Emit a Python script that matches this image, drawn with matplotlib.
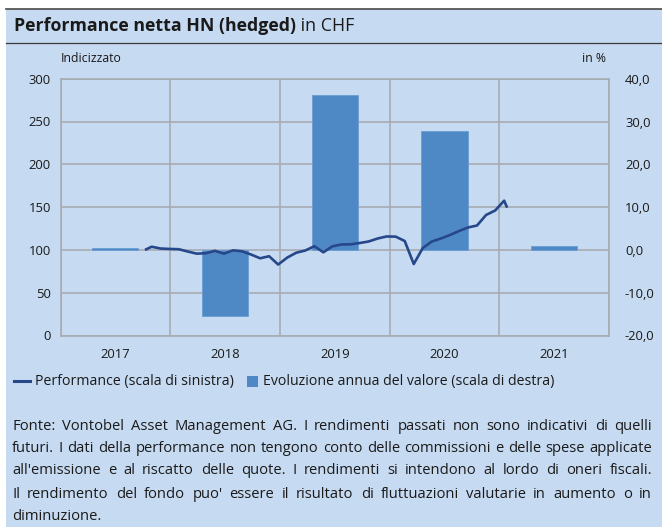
import matplotlib
matplotlib.use("Agg")
import matplotlib.pyplot as plt
from matplotlib.lines import Line2D
from matplotlib.patches import Rectangle

# ---------------- data ----------------
years = ["2017", "2018", "2019", "2020", "2021"]
annual_pct = [0.4, -15.4, 36.2, 27.7, 1.0]

# month index (1 = Jan 2017) for the indexed performance line
perf_month = [9.26] + list(range(10, 50)) + [49.33]
perf_value = [99.9, 103.7, 101.6, 101.1, 100.8, 98.1, 95.6, 96.1, 98.9, 95.6,
              99.5, 98.4, 94.6, 90.2, 92.6, 82.9, 91.0, 96.7, 99.3, 104.3,
              97.2, 104.2, 106.3, 106.5, 108.0, 109.8, 113.3, 115.7, 115.5, 110.4,
              83.5, 102.2, 109.8, 113.3, 117.4, 122.0, 126.2, 128.5, 140.8, 146.0,
              157.5, 149.3]

left_ticks = [0, 50, 100, 150, 200, 250, 300]
right_ticks = [-20, -10, 0, 10, 20, 30, 40]

title_bold = "Performance netta HN (hedged)"
title_rest = " in CHF"
left_label = "Indicizzato"
right_label = "in %"
legend_line = "Performance (scala di sinistra)"
legend_bar = "Evoluzione annua del valore (scala di destra)"
footer = [
    "Fonte: Vontobel Asset Management AG. I rendimenti passati non sono indicativi di quelli",
    "futuri. I dati della performance non tengono conto delle commissioni e delle spese applicate",
    "all'emissione e al riscatto delle quote. I rendimenti si intendono al lordo di oneri fiscali.",
    "Il rendimento del fondo puo' essere il risultato di fluttuazioni valutarie in aumento o in",
    "diminuzione.",
]

# ---------------- style ----------------
W, H = 662, 527
BG = "#c6daf1"
GRID = "#a8acb3"
BAR = "#4f89c5"
LINE = "#26488a"
TXT = "#1a1a1a"
FONT = "Open Sans"
TICKFONT = "Open Sans"
TICKSIZE = 9.4
BODYSIZE = 10.6
LEGSIZE = 10.2

fig = plt.figure(figsize=(W / 100, H / 100), dpi=100)
fig.patch.set_facecolor("white")

def fx(px):
    return px / W

def fy(py):
    return 1 - py / H

# background panel
fig.add_artist(Rectangle((fx(6), 0), 1 - fx(6), fy(9), transform=fig.transFigure,
                         facecolor=BG, edgecolor="none", zorder=0))
fig.add_artist(Line2D([fx(6), 1], [fy(9), fy(9)], transform=fig.transFigure,
                      color="#4a4a4a", lw=1.2))
fig.add_artist(Line2D([fx(6), 1], [fy(42.5), fy(42.5)], transform=fig.transFigure,
                      color="#3a3a3a", lw=0.9))

renderer = fig.canvas.get_renderer()

# title
tb = fig.text(fx(14), fy(26), title_bold, fontsize=12.8, fontweight="bold",
              family=FONT, color=TXT, va="center", ha="left")
bb = tb.get_window_extent(renderer)
fig.text((bb.x1) / W, fy(26), title_rest, fontsize=12.8, family=FONT,
         color=TXT, va="center", ha="left")

# axes rect
x0, x1 = 60.6, 609.0
y_top, y_bot = 78.7, 335.5
rect = [fx(x0), fy(y_bot), fx(x1) - fx(x0), fy(y_top) - fy(y_bot)]

ax = fig.add_axes(rect)
ax.set_facecolor("none")
ax.set_xlim(-0.5, 4.5)
ax.set_ylim(-20, 40)
ax.bar(range(len(years)), annual_pct, width=0.42, color=BAR,
       edgecolor="#6a9dd4", linewidth=0.6, zorder=3)
ax.set_xticks(range(len(years)))
ax.set_xticklabels(years)
ax.set_xticks([i - 0.5 for i in range(len(years) + 1)], minor=True)
ax.set_yticks(right_ticks)
ax.set_yticklabels([f"{v:.1f}".replace(".", ",") for v in right_ticks])
ax.yaxis.tick_right()
ax.grid(True, axis="y", color=GRID, lw=1.2, zorder=1)
ax.grid(True, axis="x", which="minor", color=GRID, lw=1.2, zorder=1)
ax.grid(False, axis="x", which="major")
ax.tick_params(axis="both", which="both", length=0, labelsize=TICKSIZE, colors=TXT)
ax.tick_params(axis="y", pad=11.5)
ax.tick_params(axis="x", pad=9)
for lab in ax.get_xticklabels() + ax.get_yticklabels():
    lab.set_family(TICKFONT)
for s in ax.spines.values():
    s.set_color(GRID)
    s.set_linewidth(1.2)

# line axis (left scale, month scale on x)
axl = fig.add_axes(rect)
axl.set_facecolor("none")
axl.set_xlim(-0.07, 60.6)
axl.set_ylim(0, 300)
axl.plot(perf_month, perf_value, color=LINE, lw=1.9, solid_joinstyle="round",
         solid_capstyle="butt", zorder=5)
axl.set_xticks([])
axl.set_yticks(left_ticks)
axl.set_yticklabels([str(v) for v in left_ticks])
axl.tick_params(axis="y", length=0, labelsize=TICKSIZE, colors=TXT, pad=7)
for lab in axl.get_yticklabels():
    lab.set_family(TICKFONT)
for s in axl.spines.values():
    s.set_visible(False)

fig.text(fx(61), fy(58), left_label, fontsize=8.8, family=FONT, color=TXT,
         va="center", ha="left")
fig.text(fx(606), fy(58), right_label, fontsize=8.8, family=FONT, color=TXT,
         va="center", ha="right")

# legend
ly = 381
fig.add_artist(Line2D([fx(14), fx(30)], [fy(ly), fy(ly)], transform=fig.transFigure,
                      color=LINE, lw=2.2))
fig.text(fx(35), fy(ly), legend_line, fontsize=LEGSIZE, family=FONT, color=TXT,
         va="center", ha="left")
fig.add_artist(Rectangle((fx(247), fy(ly + 5.5)), fx(11), fy(0) - fy(11),
                         transform=fig.transFigure, facecolor=BAR, edgecolor="none"))
fig.text(fx(263), fy(ly), legend_bar, fontsize=LEGSIZE, family=FONT, color=TXT,
         va="center", ha="left")

# justified footer
def put_line(line, ypx, left, right, justify=True):
    words = line.split(" ")
    texts = [fig.text(0, fy(ypx), w, fontsize=BODYSIZE, family=FONT, color=TXT,
                      va="center", ha="left") for w in words]
    widths = [t.get_window_extent(renderer).width for t in texts]
    if justify and len(words) > 1:
        gap = max(2.0, (right - left - sum(widths)) / (len(words) - 1))
    else:
        gap = 3.5
    x = left
    for t, w in zip(texts, widths):
        t.set_x(x / W)
        x += w + gap

line_ys = [427, 449, 471, 494, 516]
for i, (line, ypx) in enumerate(zip(footer, line_ys)):
    put_line(line, ypx, 12, 652, justify=(i < len(footer) - 1))

fig.savefig("out.png", dpi=100, facecolor=fig.get_facecolor())
